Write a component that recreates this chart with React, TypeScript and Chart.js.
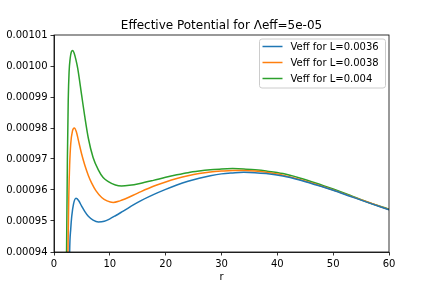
import React, { useEffect, useRef } from 'react';
import { Chart, registerables } from 'chart.js';

Chart.register(...registerables);

const TITLE = 'Effective Potential for Λeff=5e-05';
const X_LABEL = 'r';
const X_TICKS = [0, 10, 20, 30, 40, 50, 60];
const Y_TICKS = [0.00094, 0.00095, 0.00096, 0.00097, 0.00098, 0.00099, 0.001, 0.00101];

const LABELS = ['Veff for L=0.0036', 'Veff for L=0.0038', 'Veff for L=0.004'];
const COLORS = ['#1f77b4', '#ff7f0e', '#2ca02c'];

// L = 0.0036
const rBlue = [2.6, 2.8, 3.0, 3.17, 3.5, 3.94, 4.4, 4.95, 5.5, 6.15, 7.0, 7.94, 9.0, 10.0, 11.0, 12.4, 15, 17.8, 20, 22, 24, 26, 28, 30, 32, 34, 36, 38, 41, 44, 47, 50, 53, 56, 60];
const vBlue = [0.00091, 0.00094, 0.0009475, 0.0009514, 0.0009555, 0.0009573, 0.0009566, 0.0009548, 0.0009531, 0.0009515, 0.0009503, 0.0009497, 0.0009499, 0.0009507, 0.0009517, 0.0009532, 0.000956, 0.0009585, 0.0009602, 0.0009616, 0.0009628, 0.0009638, 0.0009646, 0.0009652, 0.0009655, 0.0009657, 0.0009656, 0.0009653, 0.0009645, 0.0009632, 0.0009616, 0.0009599, 0.000958, 0.0009561, 0.0009536];

// L = 0.0038
const rOrange = [2.3, 2.5, 2.65, 2.8, 3.0, 3.3, 3.64, 4.0, 4.36, 4.95, 5.55, 6.15, 6.75, 7.5, 8.54, 9.5, 10.6, 11.8, 12.7, 15, 17.8, 20, 22, 24, 26, 28, 30, 32, 34, 36, 38, 41, 44, 47, 50, 53, 56, 60];
const vOrange = [0.0009, 0.00094, 0.000958, 0.000968, 0.000975, 0.000979, 0.00098, 0.0009788, 0.0009761, 0.0009716, 0.0009678, 0.0009647, 0.0009622, 0.0009598, 0.0009576, 0.0009565, 0.000956, 0.0009565, 0.0009571, 0.000959, 0.0009612, 0.0009626, 0.0009637, 0.0009646, 0.0009653, 0.0009658, 0.0009661, 0.0009663, 0.0009663, 0.0009661, 0.0009657, 0.0009648, 0.0009634, 0.0009618, 0.00096, 0.0009581, 0.0009562, 0.0009537];

// L = 0.004
const rGreen = [2.0, 2.25, 2.4, 2.55, 2.7, 2.9, 3.1, 3.35, 3.6, 3.9, 4.24, 4.95, 5.5, 6.15, 7.0, 7.94, 8.8, 9.73, 11, 12.1, 13.5, 15.4, 17.8, 20, 22, 24, 26, 28, 30, 32, 34, 36, 38, 41, 44, 47, 50, 53, 56, 60];
const vGreen = [0.00088, 0.00094, 0.00097, 0.000989, 0.000998, 0.0010025, 0.0010045, 0.001005, 0.0010042, 0.0010022, 0.0009993, 0.0009906, 0.0009838, 0.0009767, 0.0009705, 0.0009665, 0.000964, 0.0009627, 0.0009616, 0.0009613, 0.0009615, 0.0009621, 0.0009631, 0.0009641, 0.0009649, 0.0009656, 0.0009661, 0.0009665, 0.0009668, 0.0009669, 0.0009668, 0.0009665, 0.0009661, 0.0009653, 0.0009639, 0.0009622, 0.0009603, 0.0009583, 0.0009562, 0.0009538];

const SERIES = [
  { r: rBlue, v: vBlue },
  { r: rOrange, v: vOrange },
  { r: rGreen, v: vGreen },
];

const FONT = 'DejaVu Sans';

const boxPlugin = {
  id: 'axesBox',
  afterDraw(chart: any) {
    const { ctx, chartArea } = chart;
    const { left, top, right, bottom } = chartArea;
    ctx.save();
    ctx.strokeStyle = '#000';
    ctx.lineWidth = 0.8;
    ctx.strokeRect(left, top, right - left, bottom - top);
    ctx.restore();
  },
};

const legendPlugin = {
  id: 'innerLegend',
  afterDraw(chart: any) {
    const { ctx, chartArea } = chart;
    const w = 126;
    const h = 49;
    const x = chartArea.right - 3.5 - w;
    const y = chartArea.top + 4;
    ctx.save();
    ctx.beginPath();
    const rad = 2.5;
    ctx.moveTo(x + rad, y);
    ctx.lineTo(x + w - rad, y);
    ctx.quadraticCurveTo(x + w, y, x + w, y + rad);
    ctx.lineTo(x + w, y + h - rad);
    ctx.quadraticCurveTo(x + w, y + h, x + w - rad, y + h);
    ctx.lineTo(x + rad, y + h);
    ctx.quadraticCurveTo(x, y + h, x, y + h - rad);
    ctx.lineTo(x, y + rad);
    ctx.quadraticCurveTo(x, y, x + rad, y);
    ctx.closePath();
    ctx.fillStyle = 'rgba(255,255,255,0.8)';
    ctx.fill();
    ctx.strokeStyle = '#cccccc';
    ctx.lineWidth = 1;
    ctx.stroke();
    ctx.font = `10px "${FONT}"`;
    ctx.textBaseline = 'middle';
    ctx.textAlign = 'left';
    chart.data.datasets.forEach((ds: any, i: number) => {
      const cy = y + 7.5 + i * 16;
      ctx.strokeStyle = ds.borderColor;
      ctx.lineWidth = 1.5;
      ctx.beginPath();
      ctx.moveTo(x + 3, cy);
      ctx.lineTo(x + 23, cy);
      ctx.stroke();
      ctx.fillStyle = '#000';
      ctx.fillText(ds.label, x + 31, cy + 0.5);
    });
    ctx.restore();
  },
};

export default function App() {
  const ref = useRef<HTMLCanvasElement | null>(null);

  useEffect(() => {
    if (!ref.current) return;
    const datasets = SERIES.map((s, i) => ({
      label: LABELS[i],
      data: s.r.map((r, j) => ({ x: r, y: s.v[j] })),
      borderColor: COLORS[i],
      backgroundColor: COLORS[i],
      borderWidth: 1.5,
      pointRadius: 0,
      fill: false,
      cubicInterpolationMode: 'monotone' as const,
    }));
    const chart = new Chart(ref.current, {
      type: 'line',
      data: { datasets },
      plugins: [boxPlugin, legendPlugin],
      options: {
        animation: false,
        responsive: false,
        devicePixelRatio: 1,
        layout: { padding: { left: 0, right: 43, top: 0, bottom: 0 } },
        plugins: {
          legend: { display: false },
          tooltip: { enabled: false },
          title: {
            display: true,
            text: TITLE,
            fullSize: false,
            color: '#000',
            font: { family: FONT, size: 12, weight: 'normal' },
            padding: { top: 18.5, bottom: 2.1 },
          },
        },
        scales: {
          x: {
            type: 'linear',
            min: 0,
            max: 60,
            afterBuildTicks: (scale: any) => {
              scale.ticks = X_TICKS.map((v) => ({ value: v }));
            },
            afterFit: (scale: any) => {
              scale.height = 36;
            },
            ticks: {
              color: '#000',
              font: { family: FONT, size: 10 },
              padding: 2.5,
              maxRotation: 0,
              callback: (v: any) => String(v),
            },
            grid: { drawOnChartArea: false, drawTicks: true, tickLength: 3.5, color: '#000', lineWidth: 0.8 },
            border: { display: true, color: '#000', width: 0.8 },
            title: {
              display: true,
              text: X_LABEL,
              color: '#000',
              font: { family: FONT, size: 10 },
              padding: { top: 0, bottom: 5 },
            },
          },
          y: {
            type: 'linear',
            min: 0.00094,
            max: 0.00101,
            afterBuildTicks: (scale: any) => {
              scale.ticks = Y_TICKS.map((v) => ({ value: v }));
            },
            afterFit: (scale: any) => {
              scale.width = 54;
            },
            ticks: {
              color: '#000',
              font: { family: FONT, size: 10 },
              padding: 3,
              callback: (v: any) => Number(v).toFixed(5),
            },
            grid: { drawOnChartArea: false, drawTicks: true, tickLength: 3.5, color: '#000', lineWidth: 0.8 },
            border: { display: true, color: '#000', width: 0.8 },
          },
        },
      },
    });
    return () => chart.destroy();
  }, []);

  return (
    <div style={{ position: 'fixed', left: 0, top: 0, width: 432, height: 288, background: '#fff' }}>
      <canvas ref={ref} width={432} height={288} style={{ width: 432, height: 288 }} />
    </div>
  );
}
